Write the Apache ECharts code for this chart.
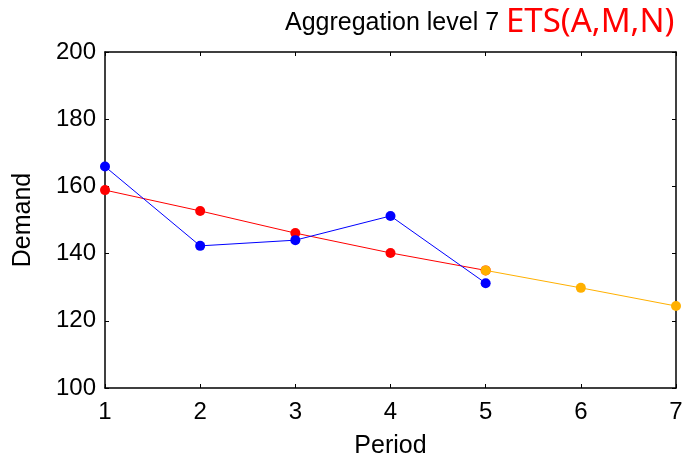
<!DOCTYPE html>
<html>
<head>
<meta charset="utf-8">
<script src="https://cdn.jsdelivr.net/npm/echarts@6/dist/echarts.min.js"></script>
<style>
  html, body { margin: 0; padding: 0; background: #fff; }
  #main { width: 685px; height: 458px; }
</style>
</head>
<body>
<div id="main"></div>
<script type="text/javascript">
    // data
    var periods = [1, 2, 3, 4, 5, 6, 7];
    var actual = [165.9, 142.3, 144.0, 151.2, 131.2];          // blue
    var fitted = [158.9, 152.7, 146.1, 140.2, 135.0];          // red
    var forecastPeriods = [5, 6, 7];
    var forecast = [135.0, 129.8, 124.4];                      // orange
    var yTicks = [100, 120, 140, 160, 180, 200];

    function pairs(xs, ys) {
        var out = [];
        for (var i = 0; i < ys.length; i++) out.push([xs[i], ys[i]]);
        return out;
    }

    var myChart = echarts.init(document.getElementById('main'));

    var axisFont = { fontFamily: 'Liberation Sans', fontSize: 24, color: '#000' };
    var nameFont = { fontFamily: 'Liberation Sans', fontSize: 25, color: '#000' };
    var lineStyleAxis = { color: '#000', width: 1.5 };
    var tick = { show: true, inside: true, length: 4, lineStyle: { color: '#000' } };

    myChart.setOption({
        animation: false,
        backgroundColor: '#fff',
        title: [{
            text: 'Aggregation level 7',
            left: 280, top: 6,
            textStyle: { fontFamily: 'Liberation Sans', fontSize: 25, fontWeight: 'normal', color: '#000' }
        }, {
            text: 'ETS(A,M,N)',
            left: 501, top: 1,
            textStyle: { fontFamily: 'Noto Sans', fontSize: 33, fontWeight: 'normal', color: '#ff0000' }
        }],
        grid: { left: 105, right: 9, top: 52, bottom: 70, containLabel: false, outerBoundsMode: 'none' },
        xAxis: [{
            type: 'value',
            min: 1, max: 7, interval: 1,
            name: 'Period',
            nameLocation: 'middle',
            nameGap: 46,
            nameTextStyle: nameFont,
            axisLine: { show: true, lineStyle: lineStyleAxis },
            axisTick: tick,
            axisLabel: Object.assign({ margin: 12 }, axisFont),
            splitLine: { show: false }
        }, {
            type: 'value',
            position: 'top',
            min: 1, max: 7, interval: 1,
            axisLine: { show: true, lineStyle: lineStyleAxis },
            axisTick: tick,
            axisLabel: { show: false },
            splitLine: { show: false }
        }],
        yAxis: [{
            type: 'value',
            min: yTicks[0], max: yTicks[yTicks.length - 1], interval: 20,
            name: 'Demand',
            nameLocation: 'middle',
            nameGap: 69,
            nameTextStyle: nameFont,
            axisLine: { show: true, lineStyle: lineStyleAxis },
            axisTick: tick,
            axisLabel: Object.assign({ margin: 9 }, axisFont),
            splitLine: { show: false }
        }, {
            type: 'value',
            position: 'right',
            min: yTicks[0], max: yTicks[yTicks.length - 1], interval: 20,
            axisLine: { show: true, lineStyle: lineStyleAxis },
            axisTick: tick,
            axisLabel: { show: false },
            splitLine: { show: false }
        }],
        series: [{
            type: 'line',
            data: pairs(periods, actual),
            symbol: 'circle', symbolSize: 10,
            itemStyle: { color: '#0000ff' },
            lineStyle: { color: '#0000ff', width: 1 },
            z: 3
        }, {
            type: 'line',
            data: pairs(periods, fitted),
            symbol: 'circle', symbolSize: 10,
            itemStyle: { color: '#ff0000' },
            lineStyle: { color: '#ff0000', width: 1 },
            z: 2
        }, {
            type: 'line',
            data: pairs(forecastPeriods, forecast),
            symbol: 'circle', symbolSize: 10,
            itemStyle: { color: '#ffb000' },
            lineStyle: { color: '#ffb000', width: 1 },
            z: 4
        }]
    });
</script>
</body>
</html>
